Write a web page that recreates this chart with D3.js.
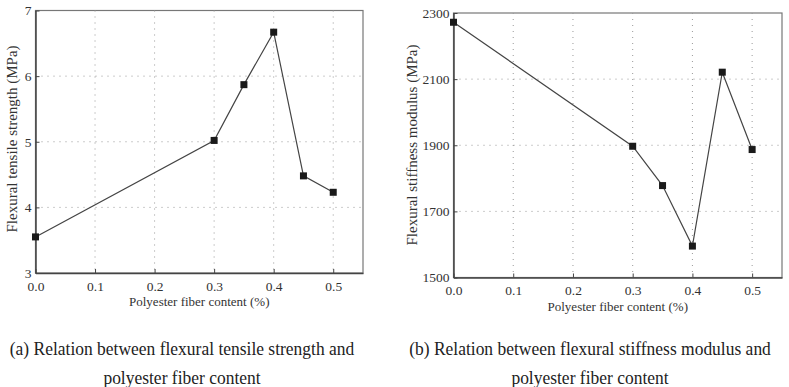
<!DOCTYPE html>
<html><head><meta charset="utf-8">
<script src="https://cdn.jsdelivr.net/npm/d3@7"></script>
<style>body{margin:0;background:#fff}</style>
</head><body>
<svg id="c" width="789" height="387"></svg>
<script>
const fiberContent = [0.0, 0.3, 0.35, 0.4, 0.45, 0.5];
const tensileStrength = [3.55, 5.02, 5.87, 6.67, 4.48, 4.23];
const stiffnessModulus = [2272, 1897, 1778, 1595, 2121, 1887];
const xTicks = [0.0, 0.1, 0.2, 0.3, 0.4, 0.5];
const yTicksA = [3, 4, 5, 6, 7];
const yTicksB = [1500, 1700, 1900, 2100, 2300];
const xTitle = "Polyester fiber content (%)";
const yTitleA = "Flexural tensile strength (MPa)";
const yTitleB = "Flexural stiffness modulus (MPa)";
const captionA = ["(a) Relation between flexural tensile strength and", "polyester fiber content"];
const captionB = ["(b) Relation between flexural stiffness modulus and", "polyester fiber content"];

const svg = d3.select("#c");
const serif = "'Liberation Serif','DejaVu Serif',serif";

function panel(cfg) {
  const x = d3.scaleLinear().domain([0, 0.55]).range([cfg.l, cfg.r]);
  const y = d3.scaleLinear().domain(cfg.yDomain).range([cfg.b, cfg.t]);
  const g = svg.append("g");
  g.append("rect").attr("x", cfg.l).attr("y", cfg.t).attr("width", cfg.r - cfg.l).attr("height", cfg.b - cfg.t)
    .attr("fill", "none").attr("stroke", "#777").attr("stroke-width", 1.2);
  g.selectAll(".gx").data(xTicks.slice(1)).enter().append("line")
    .attr("x1", d => x(d)).attr("x2", d => x(d)).attr("y1", cfg.t).attr("y2", cfg.b)
    .attr("stroke", "#999").attr("stroke-width", 1).attr("stroke-dasharray", "1,5");
  g.selectAll(".gy").data(cfg.yTicks.slice(1, -1)).enter().append("line")
    .attr("y1", d => y(d)).attr("y2", d => y(d)).attr("x1", cfg.l).attr("x2", cfg.r)
    .attr("stroke", "#999").attr("stroke-width", 1).attr("stroke-dasharray", "1,5");
  const ax = g.append("g").attr("transform", `translate(0,${cfg.b})`)
    .call(d3.axisBottom(x).tickValues(xTicks).tickFormat(d3.format(".1f")).tickSizeInner(-4).tickSizeOuter(0).tickPadding(8));
  const ay = g.append("g").attr("transform", `translate(${cfg.l},0)`)
    .call(d3.axisLeft(y).tickValues(cfg.yTicks).tickFormat(d3.format("d")).tickSizeInner(-4).tickSizeOuter(0).tickPadding(4));
  [ax, ay].forEach(a => {
    a.attr("font-family", serif).attr("font-size", 13.5);
    a.select(".domain").attr("stroke", "#444").attr("stroke-width", 1.5);
    a.selectAll(".tick line").attr("stroke", "#444");
    a.selectAll("text").attr("fill", "#333");
  });
  g.append("text").attr("x", (cfg.l + cfg.r) / 2).attr("y", cfg.b + 33).attr("text-anchor", "middle")
    .attr("font-family", serif).attr("font-size", 13).attr("fill", "#333").text(xTitle);
  g.append("text").attr("transform", `translate(${cfg.yt},${cfg.yc}) rotate(-90)`)
    .attr("text-anchor", "middle").attr("font-family", serif).attr("font-size", 15).attr("fill", "#333").text(cfg.yTitle);
  const line = d3.line().x((d, i) => x(fiberContent[i])).y(d => y(d));
  g.append("path").datum(cfg.values).attr("d", line).attr("fill", "none").attr("stroke", "#444").attr("stroke-width", 1.2);
  g.selectAll(".m").data(cfg.values).enter().append("rect")
    .attr("x", (d, i) => x(fiberContent[i]) - 3.5).attr("y", d => y(d) - 3.5)
    .attr("width", 7).attr("height", 7).attr("fill", "#1a1a1a");
  cfg.caption.forEach((t, i) => {
    svg.append("text").attr("transform", `translate(${cfg.cx},${355 + i * 29}) scale(0.92,1)`)
      .attr("text-anchor", "middle")
      .attr("font-family", serif).attr("font-size", 19).attr("fill", "#222").text(t);
  });
}

panel({l: 35.5, r: 363, t: 10.5, b: 273, yDomain: [3, 7], yTicks: yTicksA, values: tensileStrength,
  yTitle: yTitleA, yt: 17, yc: 139, caption: captionA, cx: 182});
panel({l: 453.5, r: 782, t: 13, b: 277.5, yDomain: [1500, 2300], yTicks: yTicksB, values: stiffnessModulus,
  yTitle: yTitleB, yt: 417, yc: 145, caption: captionB, cx: 590});
</script>
</body></html>
